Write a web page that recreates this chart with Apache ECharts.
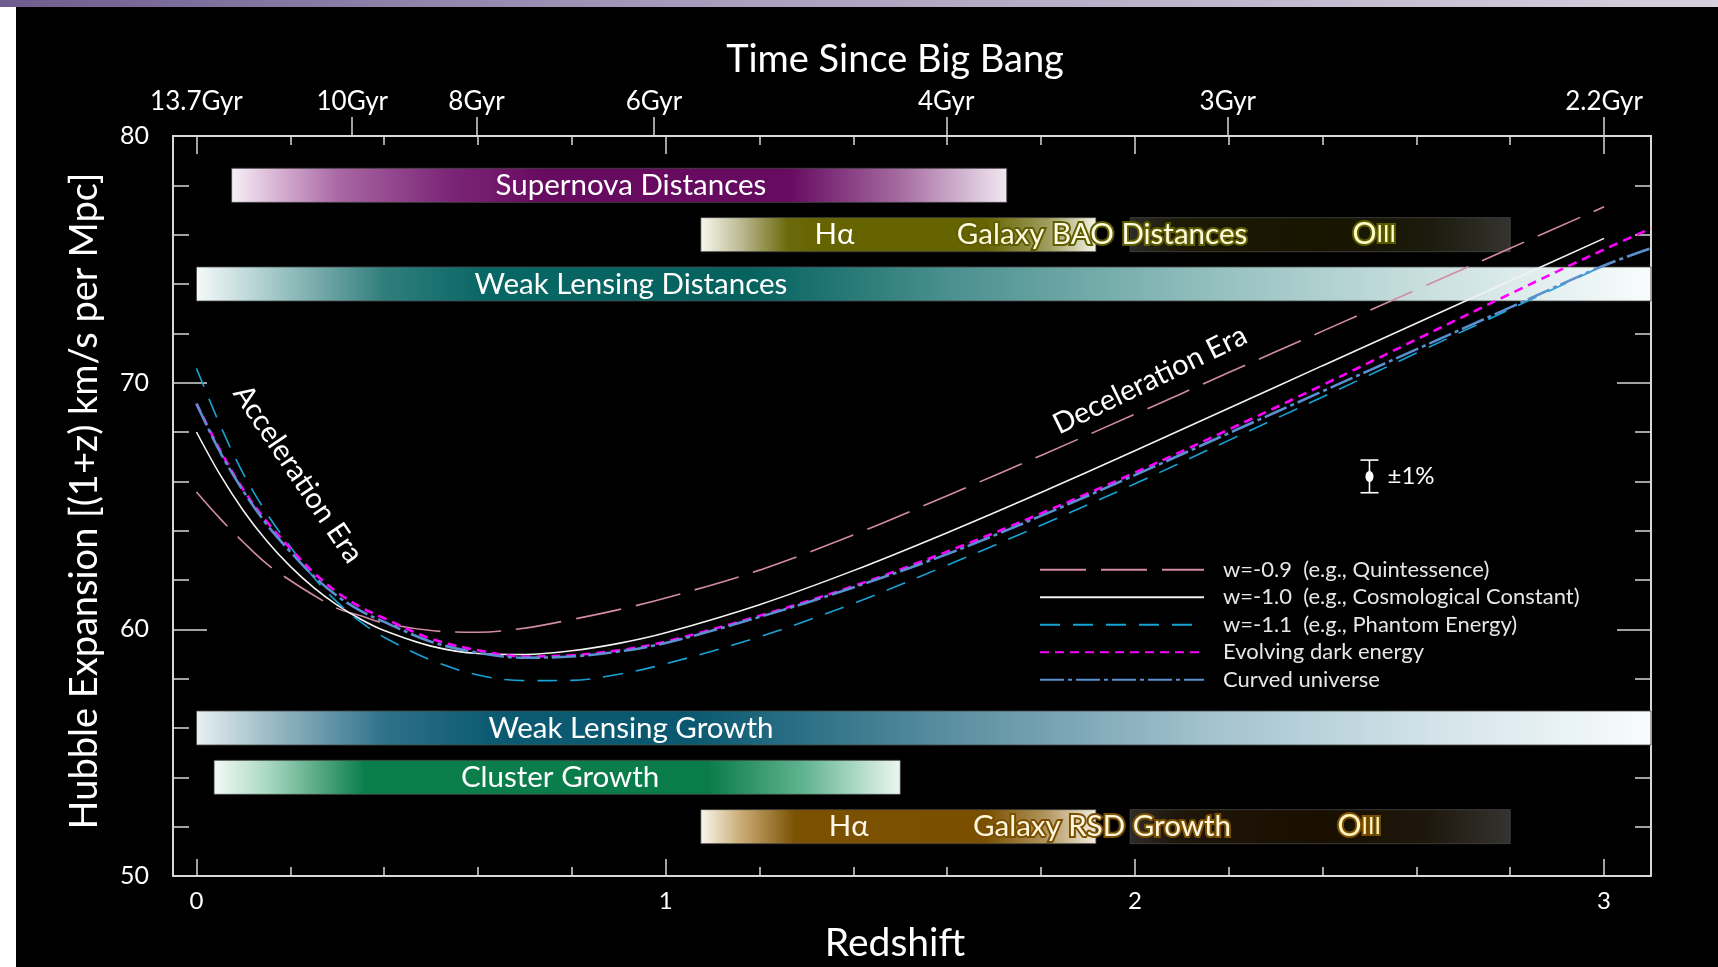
<!DOCTYPE html>
<html><head><meta charset="utf-8">
<script src="https://cdn.jsdelivr.net/npm/echarts@6/dist/echarts.min.js"></script>
<style>
html,body{margin:0;padding:0;background:#000;overflow:hidden;}
#chart{position:absolute;left:0;top:0;width:1718px;height:967px;}
#lstrip{position:absolute;left:0;top:0;width:16px;height:967px;background:#fff;z-index:5}
#tstrip{position:absolute;left:0;top:0;width:1718px;height:7px;background:linear-gradient(to right,#6e5c8e,#a89cbc 40%,#d4d0dc);z-index:6}
</style></head><body>
<div id="chart"></div><div id="lstrip"></div><div id="tstrip"></div>
<script>
// ---------- data ----------
const zGrid   = [0, 0.05, 0.1, 0.15, 0.2, 0.25, 0.3, 0.35, 0.4, 0.5, 0.6, 0.7, 0.8, 0.9, 1.0, 1.2, 1.4, 1.6, 1.8, 2.0, 2.2, 2.4, 2.6, 2.8, 3.0, 3.1];
const hQuint  = [65.57, 64.5, 63.53, 62.65, 61.98, 61.38, 60.85, 60.55, 60.25, 59.95, 59.88, 60.05, 60.4, 60.8, 61.27, 62.4, 63.83, 65.42, 67.05, 68.72, 70.41, 72.09, 73.77, 75.45, 77.13, null];
const hLambda = [68.0, 66.28, 64.81, 63.58, 62.55, 61.69, 60.98, 60.41, 59.95, 59.32, 59.02, 58.98, 59.13, 59.43, 59.86, 61.0, 62.38, 63.92, 65.55, 67.24, 68.96, 70.69, 72.41, 74.13, 75.85, null];
const hPhantom= [70.58, 68.3, 66.3, 64.7, 63.35, 62.1, 61.1, 60.3, 59.68, 58.75, 58.15, 57.92, 57.93, 58.18, 58.6, 59.7, 61.05, 62.6, 64.22, 65.9, 67.66, 69.42, 71.2, 72.98, 74.75, null];
const hEvolve = [69.15, 67.28, 65.66, 64.36, 63.28, 62.3, 61.5, 60.9, 60.45, 59.62, 59.15, 58.9, 58.95, 59.15, 59.5, 60.55, 61.75, 63.15, 64.7, 66.35, 68.1, 69.9, 71.75, 73.6, 75.4, 76.25];
const hCurved = [69.15, 67.2, 65.6, 64.25, 63.15, 62.15, 61.35, 60.75, 60.3, 59.5, 59.05, 58.85, 58.9, 59.1, 59.45, 60.5, 61.7, 63.05, 64.6, 66.25, 67.95, 69.65, 71.35, 73.05, 74.75, 75.45];
const seriesNames = ['w=-0.9  (e.g., Quintessence)', 'w=-1.0  (e.g., Cosmological Constant)', 'w=-1.1  (e.g., Phantom Energy)', 'Evolving dark energy', 'Curved universe'];

const bandNames = ['Supernova Distances', 'Galaxy BAO Hα', 'Galaxy BAO OIII', 'Weak Lensing Distances', 'Weak Lensing Growth', 'Cluster Growth', 'Galaxy RSD Hα', 'Galaxy RSD OIII'];
const bandStart = [0.075, 1.075, 1.99, 0, 0, 0.0375, 1.075, 1.99];
const bandEnd   = [1.727, 1.917, 2.80, 3.1, 3.1, 1.5, 1.917, 2.80];
const bandRow   = [78, 76, 76, 74, 56, 54, 52, 52];

const bandLabels = ['Supernova Distances', 'Hα', 'Galaxy BAO Distances', 'OIII', 'Weak Lensing Distances', 'Weak Lensing Growth', 'Cluster Growth', 'Hα', 'Galaxy RSD Growth', 'OIII'];
const bandLabelZ = [0.926, 1.36, 1.93, 2.51, 0.926, 0.926, 0.775, 1.39, 1.93, 2.478];
const bandLabelH = [78, 76, 76, 76, 74, 56, 54, 52, 52, 52];

const redshiftLabels = [0, 1, 2, 3];
const redshiftMinor  = [0, 0.2, 0.4, 0.6, 0.8, 1.0, 1.2, 1.4, 1.6, 1.8, 2.0, 2.2, 2.4, 2.6, 2.8, 3.0];
const gyrLabels = ['13.7Gyr', '10Gyr', '8Gyr', '6Gyr', '4Gyr', '3Gyr', '2.2Gyr'];
const gyrZ      = [0, 0.332, 0.597, 0.975, 1.598, 2.198, 3.0];
const hLabels   = [50, 60, 70, 80];

const errZ = [2.5], errH = [66.2], errPct = [1];

// ---------- styles ----------
const FONT = 'Lato';
const AX = '#d8d8d8';
const bandGradients = [
 [[0,'#f7eff7'],[0.05,'#dcbcd9'],[0.14,'#a866a3'],[0.28,'#7c2677'],[0.4,'#670b61'],[0.72,'#670b61'],[0.86,'#a46aa0'],[1,'#f1e8f1']],
 [[0,'#f8f8ee'],[0.1,'#bdbb95'],[0.22,'#6c6a0c'],[0.3,'#666400'],[0.72,'#666400'],[0.88,'#a09e60'],[1,'#f4f4e6']],
 [[0,'#2c2c28'],[0.12,'#1d1b08'],[0.5,'#171500'],[0.78,'#1b1a0c'],[1,'#34332f']],
 [[0,'#f6fafa'],[0.05,'#a9cbcb'],[0.13,'#2f7e7c'],[0.2,'#086664'],[0.38,'#05625f'],[0.52,'#4b918f'],[0.7,'#94c0bf'],[0.85,'#cbe0e0'],[1,'#f9fcfc']],
 [[0,'#e8f0f2'],[0.05,'#9dbcc7'],[0.13,'#2e7189'],[0.2,'#0d5b72'],[0.34,'#0a5870'],[0.52,'#5b8fa1'],[0.7,'#a4c3ce'],[0.85,'#d2e3e9'],[1,'#f9fcfd']],
 [[0,'#f3faf6'],[0.08,'#a8d8c0'],[0.22,'#0b7e4c'],[0.72,'#0a7c4a'],[0.86,'#62b490'],[1,'#ecf7f1']],
 [[0,'#fbf7ef'],[0.1,'#cbae78'],[0.24,'#7b5102'],[0.72,'#7a5000'],[0.87,'#b0945c'],[1,'#f4eee0']],
 [[0,'#2e2c29'],[0.12,'#1f160a'],[0.5,'#190f00'],[0.78,'#1e170c'],[1,'#353330']]
];
const labelStyles = [
 {fill:'#ffffff'},
 {fill:'#ffffff'},
 {fill:'#fffbe0', stroke:'#5e5d00', lineWidth:4},
 {fill:'#ffffcc', stroke:'#5e5d00', lineWidth:4, rich:true},
 {fill:'#ffffff'},
 {fill:'#ffffff'},
 {fill:'#ffffff'},
 {fill:'#fff8ea'},
 {fill:'#fff6e0', stroke:'#7a5000', lineWidth:4},
 {fill:'#fff3c0', stroke:'#7a5000', lineWidth:4, rich:true}
];
const lineStyles = [
 {color:'#d28ca0', width:1.6, type:[46,15]},
 {color:'#f2f2f2', width:1.6, type:'solid'},
 {color:'#17a3d6', width:1.6, type:[20,13]},
 {color:'#ff00ff', width:2.6, type:[9,6]},
 {color:'#5a8fd0', width:2.6, type:[24,4,4,4]}
];
const seriesValues = [hQuint, hLambda, hPhantom, hEvolve, hCurved];

const GRID = {left:173, right:67, top:136, bottom:91};
const XR = {min:-0.05, max:3.1};
const YR = {min:50, max:80};

function pairs(vals){ const out=[]; zGrid.forEach((z,i)=>{ if(vals[i]!=null) out.push([z, vals[i]]); }); return out; }

const chart = echarts.init(document.getElementById('chart'), null, {renderer:'canvas'});

const baseX = {type:'value', min:XR.min, max:XR.max, splitLine:{show:false}, nameMoveOverlap:false};
const baseY = {type:'value', min:YR.min, max:YR.max, splitLine:{show:false}, nameMoveOverlap:false};
const noLine = {show:false, onZero:false};
const line = {show:true, onZero:false, lineStyle:{color:AX, width:2}};
const tk = (len, vals, inside) => ({show:true, inside:inside!==false, length:len, customValues:vals, lineStyle:{color:AX, width:1.5}});

const option = {
  backgroundColor:'#000',
  animation:false,
  grid:[
    Object.assign({outerBoundsMode:'none'}, GRID),
    Object.assign({outerBoundsMode:'none'}, GRID),
    Object.assign({outerBoundsMode:'none'}, GRID)
  ],
  xAxis:[
    Object.assign({}, baseX, {gridIndex:0, position:'bottom', axisLine:line, axisTick:tk(9, redshiftMinor),
      axisLabel:{customValues:redshiftLabels, color:'#fff', fontSize:24, fontFamily:FONT, margin:13},
      name:'Redshift', nameLocation:'middle', nameGap:48, nameTextStyle:{color:'#fff', fontSize:39, fontFamily:FONT, padding:[0,34,0,0]}}),
    Object.assign({}, baseX, {gridIndex:0, position:'top', axisLine:line, axisTick:tk(9, redshiftMinor), axisLabel:{show:false}}),
    Object.assign({}, baseX, {gridIndex:1, position:'bottom', axisLine:noLine, axisTick:tk(17, redshiftLabels), axisLabel:{show:false}}),
    Object.assign({}, baseX, {gridIndex:1, position:'top', axisLine:noLine, axisTick:tk(18, redshiftLabels), axisLabel:{show:false}}),
    Object.assign({}, baseX, {gridIndex:2, position:'top', axisLine:noLine, axisTick:tk(19, gyrZ.slice(1), false),
      axisLabel:{customValues:gyrZ, color:'#fff', fontSize:26, fontFamily:FONT, margin:21,
        formatter:(v)=>{ const i = gyrZ.findIndex(g=>Math.abs(g-v)<1e-6); return i>=0 ? gyrLabels[i] : ''; }},
      name:'Time Since Big Bang', nameLocation:'middle', nameGap:57, nameTextStyle:{color:'#fff', fontSize:38, fontFamily:FONT, padding:[0,34,0,0]}})
  ],
  yAxis:[
    Object.assign({}, baseY, {gridIndex:0, position:'left', axisLine:line, axisTick:Object.assign(tk(16), {customValues:undefined}), interval:2,
      axisLabel:{customValues:hLabels, color:'#fff', fontSize:25, fontFamily:FONT, margin:24},
      name:'Hubble Expansion [(1+z) km/s per Mpc]', nameLocation:'middle', nameGap:69, nameTextStyle:{color:'#fff', fontSize:38, fontFamily:FONT, padding:[0,0,0,10]}}),
    Object.assign({}, baseY, {gridIndex:0, position:'right', axisLine:line, interval:2, axisTick:Object.assign(tk(16), {customValues:undefined}), axisLabel:{show:false}}),
    Object.assign({}, baseY, {gridIndex:1, position:'left', axisLine:noLine, axisTick:tk(34, hLabels), axisLabel:{show:false}}),
    Object.assign({}, baseY, {gridIndex:1, position:'right', axisLine:noLine, axisTick:tk(34, hLabels), axisLabel:{show:false}}),
    Object.assign({}, baseY, {gridIndex:2, show:false})
  ],
  legend:{
    left:1039, top:556, orient:'vertical', padding:0, itemGap:0, itemWidth:164, itemHeight:0.5,
    selectedMode:false, data:seriesNames,
    textStyle:{color:'#e6e6e6', fontSize:22, fontFamily:FONT, lineHeight:27.5, padding:[0,0,0,14]}
  },
  graphic:[
    {type:'text', x:298, y:474, rotation:-56*Math.PI/180, z:10,
      style:{text:'Acceleration Era', fill:'#fff', font:'29px Lato', align:'center', verticalAlign:'middle'}},
    {type:'text', x:1150, y:380, rotation:26*Math.PI/180, z:10,
      style:{text:'Deceleration Era', fill:'#fff', font:'29px Lato', align:'center', verticalAlign:'middle'}}
  ],
  series:[]
};

// bands
option.series.push({
  type:'custom', name:'bands', xAxisIndex:0, yAxisIndex:0, z:1, silent:true,
  data: bandStart.map((s,i)=>[s, bandEnd[i], bandRow[i]]),
  encode:{x:[0,1], y:2},
  renderItem(params, api){
    const i = params.dataIndex;
    const p0 = api.coord([api.value(0), api.value(2)+0.69]);
    const p1 = api.coord([api.value(1), api.value(2)-0.69]);
    return {type:'rect', shape:{x:p0[0], y:p0[1], width:p1[0]-p0[0], height:p1[1]-p0[1]},
      style:{fill:new echarts.graphic.LinearGradient(0,0,1,0, bandGradients[i].map(s=>({offset:s[0], color:s[1]}))),
        stroke:'rgba(70,70,70,0.8)', lineWidth:1}};
  }
});

// curves
seriesNames.forEach((n,k)=>{
  option.series.push({
    name:n, type:'line', xAxisIndex:0, yAxisIndex:0, z:3+k,
    data:pairs(seriesValues[k]), symbol:'none', showSymbol:false, smooth:0.35,
    lineStyle:lineStyles[k], itemStyle:{color:lineStyles[k].color}
  });
});

// band labels
option.series.push({
  type:'custom', name:'bandLabels', xAxisIndex:0, yAxisIndex:0, z:9, silent:true,
  data: bandLabelZ.map((z,i)=>[z, bandLabelH[i]]),
  renderItem(params, api){
    const i = params.dataIndex;
    const p = api.coord([api.value(0), api.value(1)]);
    const st = labelStyles[i];
    const txt = bandLabels[i];
    const style = {text: st.rich ? '{a|'+txt.slice(0,1)+'}{b|'+txt.slice(1)+'}' : txt,
      fill:st.fill, fontSize:29.5, fontFamily:FONT, align:'center', verticalAlign:'middle'};
    if (st.rich) style.rich = {a:{fontSize:30, fontFamily:FONT, fill:st.fill}, b:{fontSize:23, fontFamily:FONT, fill:st.fill}};
    if (st.stroke) { style.stroke = st.stroke; style.lineWidth = st.lineWidth; }
    return {type:'text', x:p[0], y:p[1], style};
  }
});

// error bar
option.series.push({
  type:'custom', name:'errorbar', xAxisIndex:0, yAxisIndex:0, z:9, silent:true,
  data: errZ.map((z,i)=>[z, errH[i], errPct[i]]),
  renderItem(params, api){
    const z = api.value(0), h = api.value(1), pct = api.value(2), e = h*pct/100;
    const c = api.coord([z,h]), t = api.coord([z,h+e]), b = api.coord([z,h-e]);
    const s = {stroke:'#fff', lineWidth:1.6};
    return {type:'group', children:[
      {type:'line', shape:{x1:c[0], y1:t[1], x2:c[0], y2:b[1]}, style:s},
      {type:'line', shape:{x1:c[0]-9, y1:t[1], x2:c[0]+9, y2:t[1]}, style:s},
      {type:'line', shape:{x1:c[0]-9, y1:b[1], x2:c[0]+9, y2:b[1]}, style:s},
      {type:'ellipse', shape:{cx:c[0], cy:c[1], rx:4, ry:5.5}, style:{fill:'#fff'}},
      {type:'text', x:c[0]+18, y:c[1], style:{text:'±'+pct+'%', fill:'#fff', fontSize:24, fontFamily:FONT, align:'left', verticalAlign:'middle'}}
    ]};
  }
});

chart.setOption(option);
</script></body></html>
